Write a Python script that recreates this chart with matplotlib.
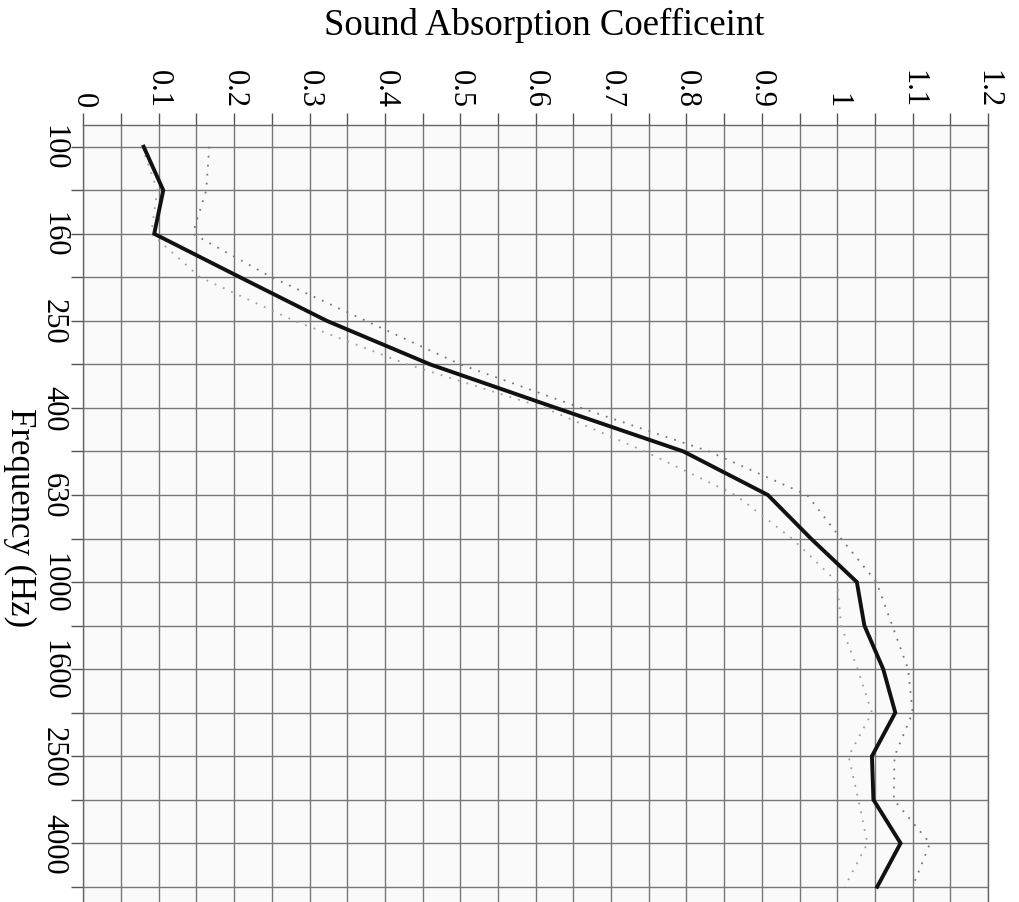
import matplotlib
matplotlib.use('Agg')
import matplotlib.pyplot as plt
from matplotlib.ticker import MultipleLocator

# one-third octave bands, labels shown on every other band
FREQS = [100, 125, 160, 200, 250, 315, 400, 500, 630, 800,
         1000, 1250, 1600, 2000, 2500, 3150, 4000, 5000]
LABELED_FREQS = [100, 160, 250, 400, 630, 1000, 1600, 2500, 4000]

SOLID = [0.080, 0.106, 0.094, 0.208, 0.323, 0.460, 0.627, 0.796, 0.908,
         0.965, 1.026, 1.036, 1.061, 1.077, 1.046, 1.048, 1.084, 1.053]
DOTTED_LOW = [0.078, 0.098, 0.090, 0.155, 0.280, 0.430, 0.612, 0.745, 0.865,
              0.940, 1.000, 1.005, 1.027, 1.046, 1.015, 1.028, 1.040, 1.010]
DOTTED_HIGH = [0.167, 0.163, 0.145, 0.250, 0.375, 0.500, 0.660, 0.830, 0.960,
               1.005, 1.052, 1.073, 1.094, 1.100, 1.076, 1.075, 1.123, 1.100]

COEF_TICKS = [0, 0.1, 0.2, 0.3, 0.4, 0.5, 0.6, 0.7, 0.8, 0.9, 1.0, 1.1, 1.2]

plt.rcParams['font.family'] = ['Liberation Serif', 'DejaVu Serif']

fig = plt.figure(figsize=(10.19, 9.03), dpi=100)
ax = fig.add_axes([0.0818, 0.0, 0.8878, 0.8605])
ax.set_facecolor('#fafafa')

pos = list(range(len(FREQS)))
ax.plot(DOTTED_LOW, pos, color='#a0a0a0', lw=1.3, ls=(0, (1, 4)))
ax.plot(DOTTED_HIGH, pos, color='#777777', lw=1.3, ls=(0, (1, 4)))
ax.plot(SOLID, pos, color='#111111', lw=2.8, solid_joinstyle='miter')

ax.set_xlim(0, 1.2)
ax.set_ylim(17.35, -0.5)

# coefficient axis along the top
ax.xaxis.tick_top()
ax.set_xticks(COEF_TICKS)
ax.set_xticklabels([f'{v:g}' for v in COEF_TICKS], rotation=-90, fontsize=22)
ax.xaxis.set_minor_locator(MultipleLocator(0.05))

# frequency axis down the left side
ax.set_yticks([FREQS.index(f) for f in LABELED_FREQS])
ax.set_yticklabels([str(f) for f in LABELED_FREQS], rotation=-90, fontsize=22,
                   va='center')
ax.set_yticks(pos, minor=True)

ax.tick_params(which='both', direction='out', length=9, width=1, color='#555555')
ax.tick_params(axis='x', which='both', pad=4)
ax.tick_params(axis='y', which='both', pad=2)

ax.grid(True, which='both', color='#777777', lw=1.0)
ax.set_axisbelow(True)

for side in ['top', 'left', 'right']:
    ax.spines[side].set_color('#666666')
    ax.spines[side].set_linewidth(1.0)
ax.spines['bottom'].set_visible(False)

fig.text(0.534, 0.972, 'Sound Absorption Coefficeint', fontsize=26.5,
         ha='center', va='center')
fig.text(0.019, 0.427, 'Frequency (Hz)', rotation=-90, fontsize=25,
         ha='center', va='center')

fig.savefig('out.png', dpi=100)
